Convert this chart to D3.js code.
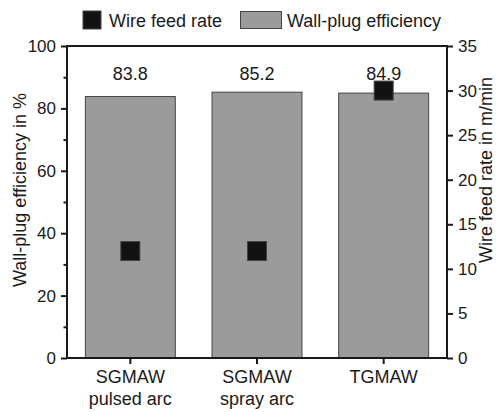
<!DOCTYPE html>
<html><head><meta charset="utf-8">
<script src="https://cdn.jsdelivr.net/npm/d3@7"></script>
<style>body{margin:0;background:#fff}text{font-family:"Liberation Sans",Arial,sans-serif;fill:#1a1a1a}</style>
</head><body><svg id="c" width="498" height="412"></svg>
<script>
const categories = [["SGMAW","pulsed arc"],["SGMAW","spray arc"],["TGMAW",""]];
const efficiency = [83.8, 85.2, 84.9];
const wireFeed = [12, 12, 30];
const leftTicks = [0,20,40,60,80,100];
const leftMinor = [10,30,50,70,90];
const rightTicks = [0,5,10,15,20,25,30,35];

const svg = d3.select("#c");
const m = {l:67, r:447, t:46, b:358};
const x = d3.scaleBand().domain(d3.range(categories.length)).range([m.l,m.r]).paddingInner(0.29).paddingOuter(0.145);
const yL = d3.scaleLinear().domain([0,100]).range([m.b,m.t]);
const yR = d3.scaleLinear().domain([0,35]).range([m.b,m.t]);

// bars
svg.selectAll("rect.bar").data(efficiency).join("rect").attr("class","bar")
  .attr("x",(d,i)=>x(i)).attr("width",x.bandwidth())
  .attr("y",d=>yL(d)).attr("height",d=>m.b-yL(d))
  .attr("fill","#9b9b9b").attr("stroke","#444").attr("stroke-width",1);

svg.selectAll("text.val").data(efficiency).join("text").attr("class","val")
  .attr("x",(d,i)=>x(i)+x.bandwidth()/2).attr("y",80)
  .attr("text-anchor","middle").attr("font-size",18).text(d=>d.toFixed(1));

// axes
const ax = svg.append("g");
const lAxis = ax.append("g").attr("transform",`translate(${m.l},0)`)
  .call(d3.axisLeft(yL).tickValues(leftTicks).tickSize(6).tickPadding(5));
ax.append("g").attr("transform",`translate(${m.l},0)`)
  .call(d3.axisLeft(yL).tickValues(leftMinor).tickSize(3.5).tickFormat(""));
ax.append("g").attr("transform",`translate(${m.r},0)`)
  .call(d3.axisRight(yR).tickValues(rightTicks).tickSize(6).tickPadding(5));
const bAxis = ax.append("g").attr("transform",`translate(0,${m.b})`)
  .call(d3.axisBottom(x).tickSize(6).tickFormat(""));
ax.selectAll(".domain").remove();
ax.selectAll(".tick line").attr("stroke","#1a1a1a").attr("stroke-width",2);
ax.selectAll(".tick text").attr("font-size",17).attr("fill","#1a1a1a").attr("font-family","Liberation Sans, Arial, sans-serif");

// category labels
categories.forEach((c,i)=>{
  const cx = x(i)+x.bandwidth()/2;
  svg.append("text").attr("x",cx).attr("y",383).attr("text-anchor","middle").attr("font-size",18).text(c[0]);
  if(c[1]) svg.append("text").attr("x",cx).attr("y",405).attr("text-anchor","middle").attr("font-size",18).text(c[1]);
});

// frame
svg.append("rect").attr("x",m.l).attr("y",m.t).attr("width",m.r-m.l).attr("height",m.b-m.t)
  .attr("fill","none").attr("stroke","#1a1a1a").attr("stroke-width",2);

// markers
const s = 19;
svg.selectAll("rect.mk").data(wireFeed).join("rect").attr("class","mk")
  .attr("x",(d,i)=>x(i)+x.bandwidth()/2-s/2).attr("y",d=>yR(d)-s/2)
  .attr("width",s).attr("height",s).attr("fill","#121212").attr("stroke","#444").attr("stroke-width",1);

// axis titles
svg.append("text").attr("transform","translate(26,190) rotate(-90)").attr("text-anchor","middle").attr("font-size",18).text("Wall-plug efficiency in %");
svg.append("text").attr("transform","translate(492,170) rotate(-90)").attr("text-anchor","middle").attr("font-size",18).text("Wire feed rate in m/min");

// legend
svg.append("rect").attr("x",83).attr("y",11).attr("width",18).attr("height",18).attr("fill","#121212").attr("stroke","#444");
svg.append("text").attr("x",109).attr("y",27).attr("font-size",18).text("Wire feed rate");
svg.append("rect").attr("x",240.5).attr("y",11.5).attr("width",41).attr("height",17).attr("fill","#9b9b9b").attr("stroke","#444");
svg.append("text").attr("x",287).attr("y",27).attr("font-size",18).text("Wall-plug efficiency");
</script></body></html>
